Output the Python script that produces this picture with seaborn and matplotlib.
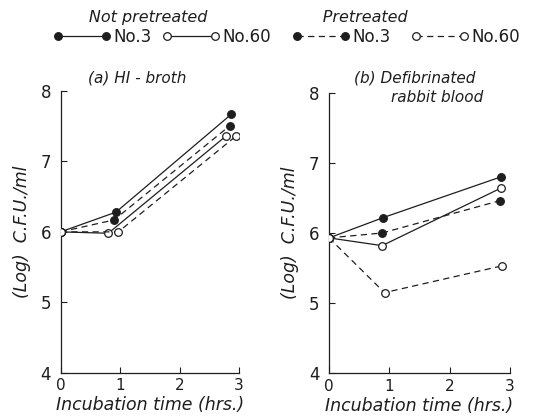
import numpy as np
import pandas as pd
import seaborn as sns
import matplotlib
matplotlib.use("Agg")
import matplotlib.pyplot as plt
from matplotlib.lines import Line2D

sns.set_theme(style="ticks")
plt.rcParams['font.family'] = ['DejaVu Sans']

# ---- data: (a) HI-broth ----
a_x_np3 = [0.0, 0.93, 2.87]
a_y_np3 = [6.0, 6.28, 7.67]
a_x_p3 = [0.0, 0.90, 2.85]
a_y_p3 = [6.0, 6.17, 7.51]
a_x_np60 = [0.0, 0.80, 2.78]
a_y_np60 = [6.0, 5.98, 7.36]
a_x_p60 = [0.0, 0.97, 2.95]
a_y_p60 = [6.0, 6.0, 7.36]

# ---- data: (b) Defibrinated rabbit blood ----
b_x_np3 = [0.0, 0.90, 2.85]
b_y_np3 = [5.93, 6.22, 6.80]
b_x_p3 = [0.0, 0.88, 2.83]
b_y_p3 = [5.93, 6.00, 6.46]
b_x_np60 = [0.0, 0.88, 2.85]
b_y_np60 = [5.93, 5.82, 6.64]
b_x_p60 = [0.0, 0.92, 2.86]
b_y_p60 = [5.93, 5.15, 5.53]

x_ticks = [0, 1, 2, 3]
y_ticks = [4, 5, 6, 7, 8]
title_a = "(a) HI - broth"
title_b1 = "(b) Defibrinated"
title_b2 = "rabbit blood"
xlabel = "Incubation time (hrs.)"
ylabel = "(Log)  C.F.U./ml"
legend_labels = ["No.3", "No.60"]

INK = "#1e1e1e"
DASH = (0, (5, 3.5))

fig = plt.figure(figsize=(5.4, 4.2), dpi=100)
axA = fig.add_axes([0.1124, 0.1126, 0.4426 - 0.1124, 0.7833 - 0.1126])
axB = fig.add_axes([0.6093, 0.1112, 0.9444 - 0.6093, 0.7793 - 0.1112])

def series(ax, xs, ys, filled, dashed):
    df = pd.DataFrame({"x": xs, "y": ys})
    sns.lineplot(data=df, x="x", y="y", ax=ax, color=INK, sort=False,
                 linewidth=0.9, linestyle=DASH if dashed else "-",
                 marker="o", markersize=5.5,
                 markerfacecolor=INK if filled else "white",
                 markeredgecolor=INK, markeredgewidth=0.9, zorder=3)

series(axA, a_x_np3, a_y_np3, True, False)
series(axA, a_x_p3, a_y_p3, True, True)
series(axA, a_x_np60, a_y_np60, False, False)
series(axA, a_x_p60, a_y_p60, False, True)

series(axB, b_x_np3, b_y_np3, True, False)
series(axB, b_x_p3, b_y_p3, True, True)
series(axB, b_x_np60, b_y_np60, False, False)
series(axB, b_x_p60, b_y_p60, False, True)

for ax in [axA, axB]:
    ax.set_xlim(0, 3)
    ax.set_ylim(4, 8)
    ax.set_xticks(x_ticks)
    ax.set_yticks(y_ticks)
    ax.set_xticklabels([str(v) for v in x_ticks], fontsize=11)
    ax.set_yticklabels([str(v) for v in y_ticks], fontsize=12)
    ax.tick_params(direction="in", length=4, width=0.8, color=INK,
                   labelcolor=INK)
    ax.tick_params(axis="y", pad=7)
    ax.tick_params(axis="x", pad=4)
    for s in ["top", "right"]:
        ax.spines[s].set_visible(False)
    for s in ["left", "bottom"]:
        ax.spines[s].set_color(INK)
        ax.spines[s].set_linewidth(0.9)
    ax.set_xlabel(xlabel, fontsize=12.5, style="italic", color=INK, labelpad=2)
    ax.set_ylabel(ylabel, fontsize=12.5, style="italic", color=INK, labelpad=7)
    ax.set_facecolor("white")

axA.text(0.43, 1.045, title_a, transform=axA.transAxes, ha="center", va="center",
         fontsize=11, style="italic", color=INK)
axB.text(0.475, 1.053, title_b1, transform=axB.transAxes, ha="center", va="center",
         fontsize=11, style="italic", color=INK)
axB.text(0.60, 0.982, title_b2, transform=axB.transAxes, ha="center", va="center",
         fontsize=11, style="italic", color=INK)

def handle(filled, dashed):
    return Line2D([], [], color=INK, linewidth=0.9,
                  linestyle=DASH if dashed else "-",
                  marker="o", markersize=5.5,
                  markerfacecolor=INK if filled else "white",
                  markeredgecolor=INK, markeredgewidth=0.9)

leg_kw = dict(ncol=2, frameon=False, numpoints=2, handlelength=3.5,
              handletextpad=0.15, fontsize=12,
              title_fontsize=11.5, borderaxespad=0, labelcolor=INK,
              alignment="left", labelspacing=0.2)
leg1 = fig.legend([handle(True, False), handle(False, False)], legend_labels,
                  title="       Not pretreated", loc="upper left", columnspacing=0.6,
                  bbox_to_anchor=(46 / 540, 1 - 3 / 420), **leg_kw)
leg2 = fig.legend([handle(True, True), handle(False, True)], legend_labels,
                  title="      Pretreated", loc="upper left", columnspacing=1.2,
                  bbox_to_anchor=(285 / 540, 1 - 3 / 420), **leg_kw)
for lg in (leg1, leg2):
    lg.get_title().set_style("italic")
    lg.get_title().set_color(INK)

fig.savefig("out.png", dpi=100, facecolor="white")
